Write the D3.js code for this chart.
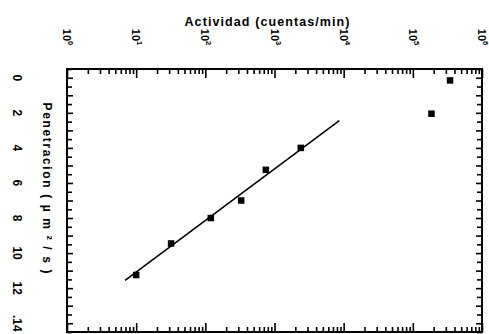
<!DOCTYPE html>
<html>
<head>
<meta charset="utf-8">
<script src="https://cdn.jsdelivr.net/npm/d3@7"></script>
<style>
  body { margin: 0; background: #fff; }
  text { font-family: "Liberation Sans", Arial, sans-serif; font-weight: bold; fill: #000; }
</style>
</head>
<body>
<div id="chart"></div>
<script>
// measured points (actividad in cuentas/min, penetracion in um^2/s)
const actividad = [10, 32, 120, 330, 750, 2400, 186000, 345000];
const penetracion = [11.25, 9.45, 8.0, 7.0, 5.25, 4.0, 2.05, 0.15];

// fitted line end points
const lineActividad = [6.9, 8650];
const linePenetracion = [11.55, 2.45];

const decades = [0, 1, 2, 3, 4, 5, 6];
const penTicks = [0, 2, 4, 6, 8, 10, 12, 14];

const W = 489, H = 334;
const frame = { left: 67, right: 482, top: 69, bottom: 332 };

const svg = d3.select('#chart').append('svg')
  .attr('width', W)
  .attr('height', H);

const x = d3.scaleLog().domain([1, 1e6]).range([frame.left, frame.right]);
const y = d3.scaleLinear().domain([-0.5, 14.5]).range([frame.top, frame.bottom]);

const majorX = decades.map(d => Math.pow(10, d));
const minorX = x.ticks().filter(t => !majorX.includes(t));
const majorY = d3.range(0, 15, 1);
const minorY = d3.range(-0.5, 14.6, 1);

function ticks(axis, pos, values, size) {
  const g = svg.append('g')
    .attr('transform', pos)
    .call(axis.tickValues(values).tickSize(size).tickFormat(''));
  g.select('.domain').remove();
  g.selectAll('line').attr('stroke', '#000').attr('stroke-width', 1.6);
}

// top / bottom (log) ticks pointing inward
ticks(d3.axisTop(x), `translate(0,${frame.top})`, majorX, -9);
ticks(d3.axisTop(x), `translate(0,${frame.top})`, minorX, -5);
ticks(d3.axisBottom(x), `translate(0,${frame.bottom})`, majorX, -9);
ticks(d3.axisBottom(x), `translate(0,${frame.bottom})`, minorX, -5);
// left / right ticks
ticks(d3.axisLeft(y), `translate(${frame.left},0)`, majorY, -6);
ticks(d3.axisLeft(y), `translate(${frame.left},0)`, minorY, -5);
ticks(d3.axisRight(y), `translate(${frame.right},0)`, majorY, -6);
ticks(d3.axisRight(y), `translate(${frame.right},0)`, minorY, -5);

// frame
svg.append('rect')
  .attr('x', frame.left).attr('y', frame.top)
  .attr('width', frame.right - frame.left).attr('height', frame.bottom - frame.top)
  .attr('fill', 'none').attr('stroke', '#000').attr('stroke-width', 2);

// top tick labels 10^k, rotated
const xl = svg.append('g').selectAll('text')
  .data(decades)
  .join('text')
  .attr('transform', d => `translate(${x(Math.pow(10, d))},37) rotate(90)`)
  .attr('text-anchor', 'middle')
  .attr('dominant-baseline', 'central')
  .style('font-size', '11px');
xl.append('tspan').text('10');
xl.append('tspan').attr('dy', -4).style('font-size', '7.5px').text(d => d);

// left tick labels, rotated
svg.append('g').selectAll('text')
  .data(penTicks)
  .join('text')
  .attr('transform', d => `translate(17,${y(d)}) rotate(90)`)
  .attr('text-anchor', 'middle')
  .attr('dominant-baseline', 'central')
  .style('font-size', '12px')
  .text(d => d === 14 ? '.14' : d);

// axis titles
svg.append('text')
  .attr('x', 267).attr('y', 26)
  .attr('text-anchor', 'middle')
  .attr('textLength', 165)
  .style('font-size', '12.5px')
  .text('Actividad (cuentas/min)');

svg.append('text')
  .attr('transform', 'translate(47,188) rotate(90)')
  .attr('text-anchor', 'middle')
  .attr('dominant-baseline', 'central')
  .attr('textLength', 171)
  .style('font-size', '12px')
  .text('Penetracion  ( µ m ² / s )');

// fitted line
svg.append('path')
  .datum(d3.zip(lineActividad, linePenetracion))
  .attr('d', d3.line().x(d => x(d[0])).y(d => y(d[1])))
  .attr('fill', 'none')
  .attr('stroke', '#000')
  .attr('stroke-width', 1.6);

// points
const s = 6.5;
svg.append('g').selectAll('rect')
  .data(d3.zip(actividad, penetracion))
  .join('rect')
  .attr('x', d => x(d[0]) - s / 2)
  .attr('y', d => y(d[1]) - s / 2)
  .attr('width', s)
  .attr('height', s)
  .attr('fill', '#000');
</script>
</body>
</html>
